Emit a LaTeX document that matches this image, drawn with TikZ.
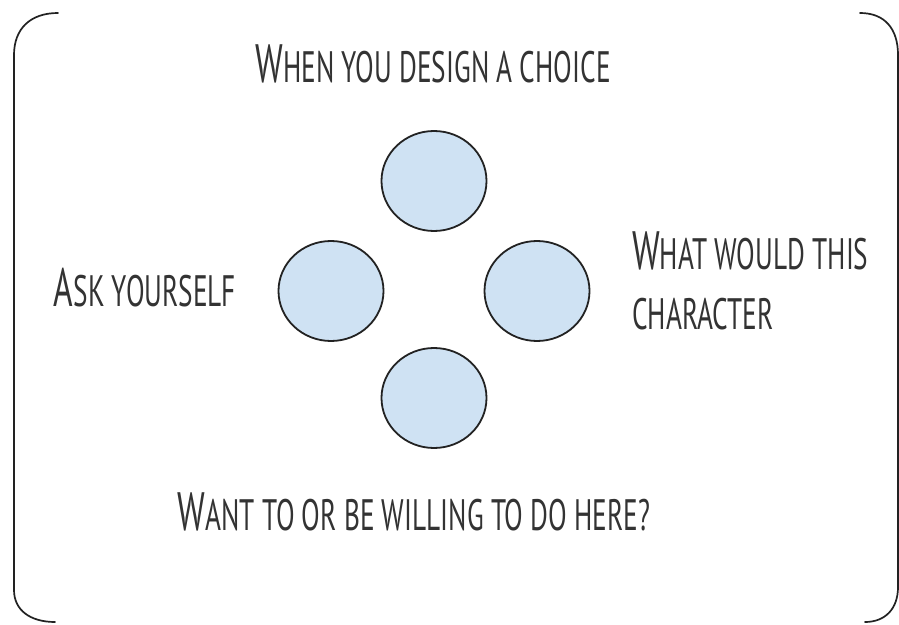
\documentclass[tikz,border=0pt]{standalone}
\usepackage{fontspec}
\usetikzlibrary{shapes.geometric}
\newfontfamily\sketchFont[FakeStretch=0.62]{PT Sans}

\definecolor{choiceFrame}{RGB}{34,34,34}
\definecolor{choiceDot}{RGB}{207,226,243}
\definecolor{choiceText}{RGB}{51,51,51}

\begin{document}
\begin{tikzpicture}[x=1pt,y=1pt,
      caption/.style={font=\fontsize{44}{60}\selectfont\sketchFont,
        text=choiceText, inner sep=0pt},
      dot/.style={ellipse, draw=choiceFrame, fill=choiceDot, line width=1.8pt,
        minimum width=105, minimum height=100, inner sep=0pt},
      bracket/.style={draw=choiceFrame, line width=1.7pt, line cap=round}]
      \useasboundingbox (0,0) rectangle (899,624);
      \fill[white] (0,0) rectangle (899,624);

      % open frame, left and right halves
      \path[bracket] (58,611) .. controls (30,611) and (14,595) .. (14,569)
        -- (14,34) .. controls (14,14) and (30,2) .. (55,2);
      \path[bracket] (860,611) .. controls (885,611) and (898,595) .. (898,569)
        -- (898,37) .. controls (898,15) and (885,2) .. (865,2);

      % four dots
      \node[dot] (top) at (434,443) {};
      \node[dot] (left) at (331,333) {};
      \node[dot] (right) at (537,333) {};
      \node[dot] (bottom) at (434,226) {};

      \node[caption] (design) at (433,560)
        {{\fontsize{54}{60}\selectfont W}HEN YOU DESIGN A CHOICE};
      \node[caption] (ask) at (145,336)
        {{\fontsize{54}{60}\selectfont A}SK YOURSELF};
      \node[caption, anchor=north west, align=left] (what) at (632,392)
        {{\fontsize{54}{60}\selectfont W}HAT WOULD THIS\\CHARACTER};
      \node[caption] (want) at (414,112)
        {{\fontsize{54}{60}\selectfont W}ANT TO OR BE WILLING TO DO HERE?};
    \end{tikzpicture}
\end{document}
